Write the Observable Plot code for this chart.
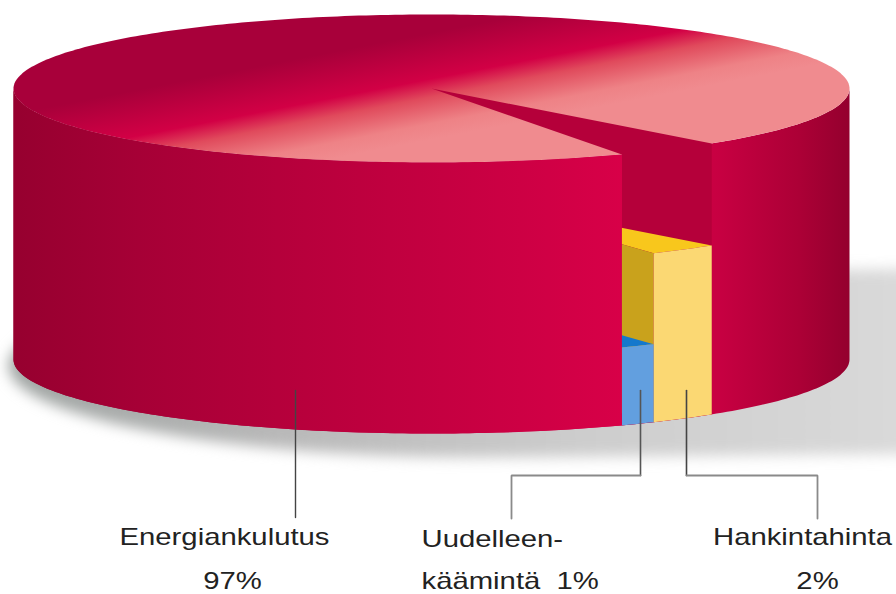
<!DOCTYPE html>
<html>
<head>
<meta charset="utf-8">
<style>
html,body{margin:0;padding:0;background:#fff}
svg{display:block}
</style>
<script src="https://cdn.jsdelivr.net/npm/d3@7"></script>
<script src="https://cdn.jsdelivr.net/npm/@observablehq/plot@0.6"></script>
</head>
<body>
<div id="chart"></div>
<script>
// ---- data ----
const categories = ["Energiankulutus", "Uudelleenkäämintä", "Hankintahinta"];
const shares = [97, 1, 2];
const labelLines = [["Energiankulutus", "97%"], ["Uudelleen-", "käämintä  1%"], ["Hankintahinta", "2%"]];

// ---- projection of the cylinder (page units) ----
const cyl = {cx: 431, cy: 88, rx: 418, ry: 74, depth: 271};
const startAngle = 47.9;       // where the small slices begin
const degPerShare = 5;         // small slices are drawn exaggerated in the original
const slabDrop = {1: 193, 2: 102}; // how far below the top each small slab starts

const rad = d => d * Math.PI / 180;
const pt = (a, drop = 0) => ({x: cyl.cx + cyl.rx * Math.cos(rad(a)), y: cyl.cy + cyl.ry * Math.sin(rad(a)) + drop});
const centre = (drop = 0) => ({x: cyl.cx, y: cyl.cy + drop});
const arc = (a0, a1, drop = 0) => {
  const n = Math.max(2, Math.ceil(Math.abs(a1 - a0)));
  return d3.range(n + 1).map(i => pt(a0 + (a1 - a0) * i / n, drop));
};

const yellowEnd = startAngle + shares[2] * degPerShare;
const blueEnd = yellowEnd + shares[1] * degPerShare;
const D = cyl.depth, dY = slabDrop[shares[2]], dB = slabDrop[shares[1]];

const shapes = {
  side: [...arc(0, 180, 0), ...arc(180, 0, D)],
  top: arc(0, 360, 0),
  cavity: [centre(), pt(startAngle), pt(startAngle, D), ...arc(startAngle, blueEnd, D), pt(blueEnd), centre()],
  yellowTop: [centre(dY), ...arc(startAngle, yellowEnd, dY)],
  goldWall: [centre(dY), pt(yellowEnd, dY), pt(yellowEnd, D), centre(D)],
  blueTop: [centre(dB), ...arc(yellowEnd, blueEnd, dB)],
  yellowFront: [...arc(startAngle, yellowEnd, dY), ...arc(yellowEnd, startAngle, D)],
  blueFront: [...arc(yellowEnd, blueEnd, dB), ...arc(blueEnd, yellowEnd, D)],
  mainFront: [...arc(blueEnd, 180, 0), ...arc(180, blueEnd, D)]
};

// shadow: rounded on the left, running off the page on the right
const sh = {cx: 480, cy: 365, rx: 472, ry: 92};
const shadowPts = [
  ...d3.range(90, 271, 3).map(a => ({x: sh.cx + sh.rx * Math.cos(rad(a)), y: sh.cy + sh.ry * Math.sin(rad(a))})),
  {x: 960, y: 268}, {x: 960, y: sh.cy + sh.ry - 4}
];

// leader lines, dropping from the slices to the labels
const leaderY = {start: 390, elbow: 475, end: 518};
const leaders = [
  {seg: [[295, leaderY.start], [295, 517]], stroke: "#444", w: 1.4},
  {seg: [[640, leaderY.start], [640, leaderY.elbow]], stroke: "#555", w: 1.6},
  {seg: [[640, leaderY.elbow], [511, leaderY.elbow], [511, leaderY.end]], stroke: "#8a8a8a", w: 1.8},
  {seg: [[686, leaderY.start], [686, leaderY.elbow]], stroke: "#444", w: 1.6},
  {seg: [[686, leaderY.elbow], [817, leaderY.elbow], [817, leaderY.end]], stroke: "#8a8a8a", w: 1.8}
];

const labels = [
  {t: labelLines[0][0], x: 224, y: 544, a: "middle"},
  {t: labelLines[0][1], x: 232, y: 588, a: "middle"},
  {t: labelLines[1][0], x: 421, y: 546, a: "start"},
  {t: labelLines[1][1], x: 421, y: 588, a: "start"},
  {t: labelLines[2][0], x: 802, y: 544, a: "middle"},
  {t: labelLines[2][1], x: 817, y: 588, a: "middle"}
];

function gradient(defs, id, [x1, y1, x2, y2], stops) {
  const g = defs.append("linearGradient").attr("id", id).attr("gradientUnits", "userSpaceOnUse")
    .attr("x1", x1).attr("y1", y1).attr("x2", x2).attr("y2", y2);
  stops.forEach(([o, c]) => g.append("stop").attr("offset", o).attr("stop-color", c));
}
const defsMark = () => {
  const defs = d3.create("svg:defs");
  gradient(defs, "wall", [12, 0, 849, 0], [
    [0, "#96002f"], [0.15, "#a60036"], [0.35, "#b8003c"], [0.55, "#c80042"],
    [0.73, "#d80048"], [0.84, "#c80042"], [0.94, "#ac0036"], [1, "#94002e"]]);
  gradient(defs, "top", [391, 40, 411, 143], [
    [0, "#a8003a"], [0.43, "#d20045"], [0.6, "#e04a5c"], [0.85, "#ee8286"], [1, "#f08b8f"]]);
  gradient(defs, "shadow", [0, 0, 896, 0], [
    [0, "#9ea3a1"], [0.3, "#b8b8b8"], [0.65, "#cdcdcd"], [1, "#d9d9d9"]]);
  return defs.node();
};

const face = (pts, fill) => Plot.line(pts, {x: "x", y: "y", fill, stroke: "none"});

const plot = Plot.plot({
  width: 896,
  height: 594,
  margin: 0,
  x: {domain: [0, 896], range: [0, 896], axis: null},
  y: {domain: [0, 594], range: [0, 594], axis: null},
  style: {background: "#fff", overflow: "hidden"},
  marks: [
    defsMark,
    Plot.line(shadowPts, {x: "x", y: "y", fill: "url(#shadow)", stroke: "none", imageFilter: "blur(7px)"}),
    face(shapes.side, "url(#wall)"),
    face(shapes.top, "url(#top)"),
    face(shapes.cavity, "#b5003a"),
    face(shapes.yellowTop, "#f8c71c"),
    face(shapes.goldWall, "#c9a21c"),
    face(shapes.blueTop, "#1478cc"),
    face(shapes.yellowFront, "#fbd873"),
    face(shapes.blueFront, "#629fdf"),
    face(shapes.mainFront, "url(#wall)"),
    ...leaders.map(l => Plot.line(l.seg, {x: d => d[0], y: d => d[1], stroke: l.stroke, strokeWidth: l.w, strokeLinejoin: "miter"})),
    ...labels.map(l => Plot.text([l], {
      x: "x", y: "y", text: "t", textAnchor: l.a, lineAnchor: "bottom",
      fontFamily: "Liberation Sans, Arial, sans-serif", fontSize: 24, fill: "#222"
    }))
  ]
});
document.getElementById("chart").append(plot);

// the original's lettering is set about a fifth wider than normal
d3.select(plot).selectAll("text").each(function () {
  this.setAttribute("textLength", this.getComputedTextLength() * 1.22);
  this.setAttribute("lengthAdjust", "spacingAndGlyphs");
});
</script>
</body>
</html>
